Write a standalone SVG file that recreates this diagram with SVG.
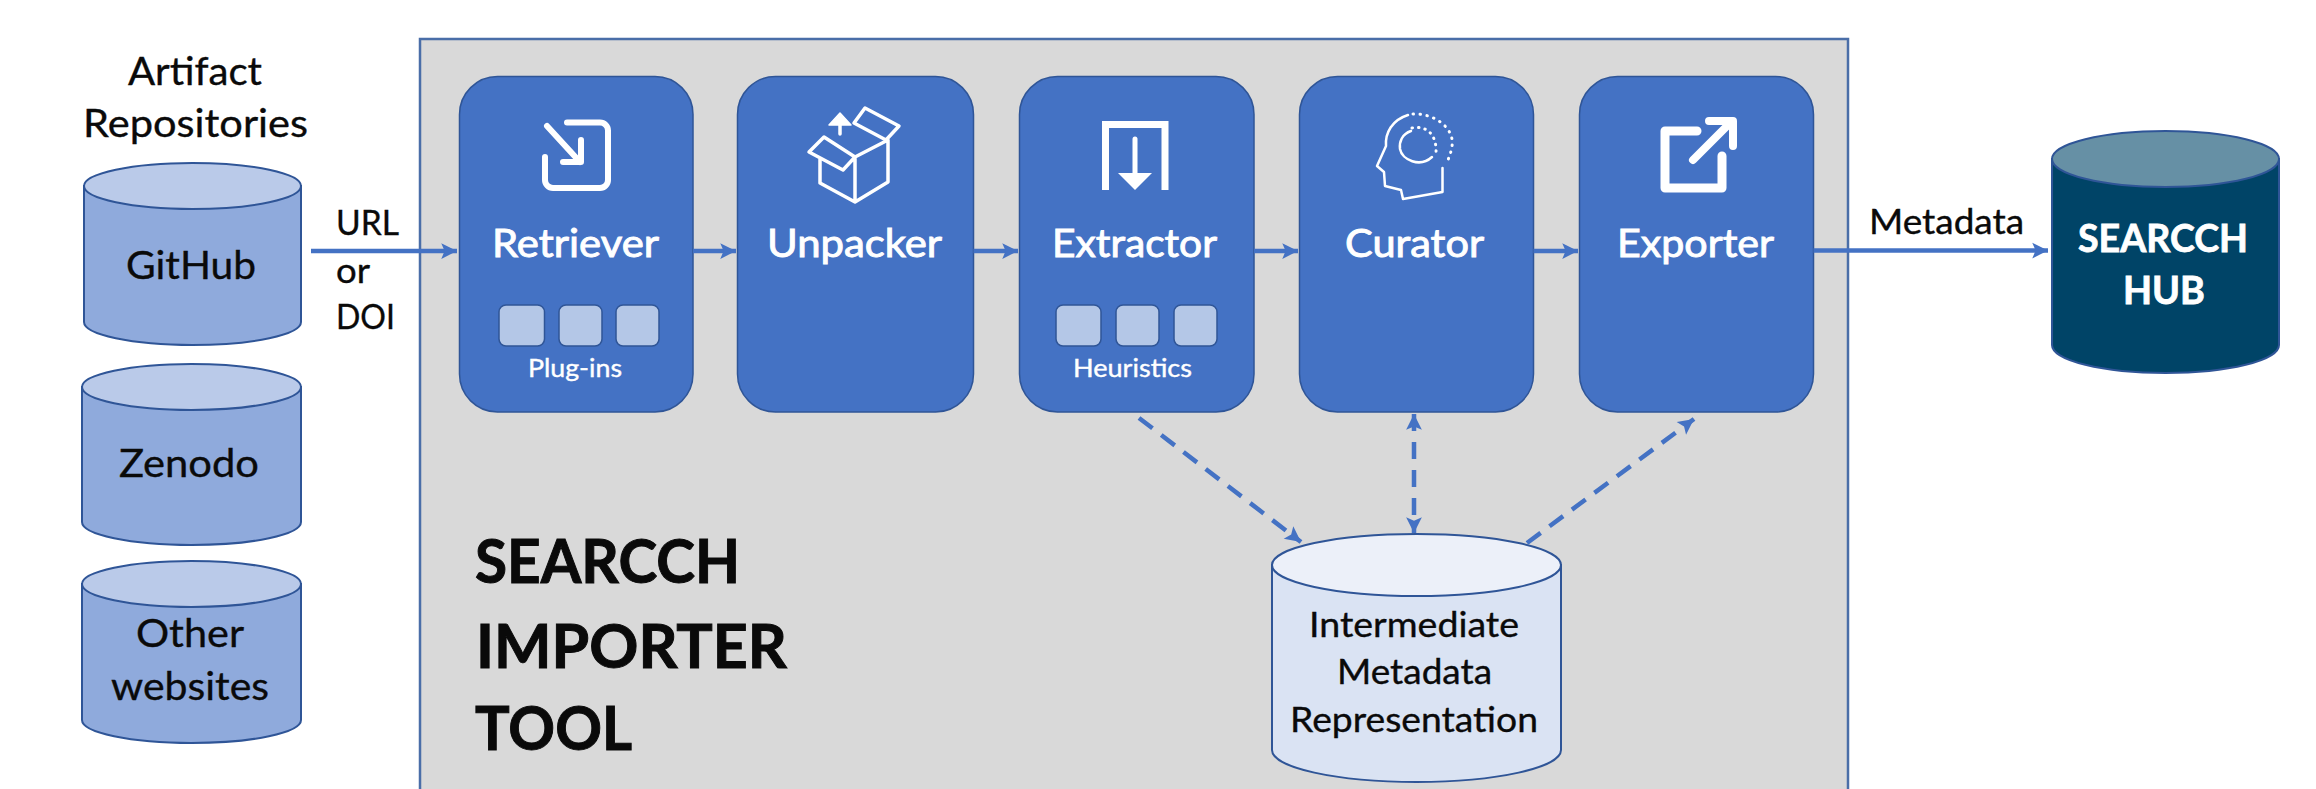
<svg xmlns="http://www.w3.org/2000/svg" width="2316" height="789" viewBox="0 0 2316 789">
<style>
text{font-family:Lato,"Liberation Sans",sans-serif;fill:#0a0a0a;stroke:#0a0a0a;stroke-width:.35}
.b{font-size:39px}.m{font-size:34px}
.w{fill:#fff;stroke:#fff;stroke-width:.9;font-size:38px}
.s{fill:#fff;stroke:#fff;stroke-width:.4;font-size:25px}
.h{font-size:62px;font-weight:700;stroke-width:1}
.hub{fill:#fff;stroke:#fff;stroke-width:.8;font-size:39px;font-weight:700}
.step{fill:#4472c4;stroke:#2f5597;stroke-width:1.5}
.chip{fill:#b4c7e7;stroke:#2f5597;stroke-width:1.5}
.cyl{stroke:#2f5597;stroke-width:2}
.blue{fill:#8faadc}.bluetop{fill:#bacae9}
.pale{fill:#dae3f3}.paletop{fill:#ecf0f9}
.dark{fill:#004467}.darktop{fill:#6690a5}
.ic{fill:none;stroke:#fff;stroke-linecap:round;stroke-linejoin:round}
.flow{fill:none;stroke:#4472c4;stroke-width:4.5;marker-end:url(#a)}
.dash{fill:none;stroke:#4472c4;stroke-width:4.5;stroke-dasharray:17 11;marker-end:url(#a)}
</style>
<defs>
<marker id="a" markerUnits="userSpaceOnUse" markerWidth="18" markerHeight="18" refX="15" refY="8" orient="auto-start-reverse" viewBox="0 0 16 16"><path d="M1,1 L15,8 L1,15 L4,8 Z" fill="#4472c4"/></marker>
</defs>
<rect width="2316" height="789" fill="#fff"/>
<rect id="importer-tool" x="420" y="39" width="1428" height="770" fill="#d9d9d9" stroke="#4a6ea8" stroke-width="2.5"/>
<text class="h" x="475" y="583" textLength="265" lengthAdjust="spacingAndGlyphs">SEARCCH</text>
<text class="h" x="476" y="668" textLength="311" lengthAdjust="spacingAndGlyphs">IMPORTER</text>
<text class="h" x="475" y="750" textLength="157" lengthAdjust="spacingAndGlyphs">TOOL</text>

<g id="repositories-label">
<text class="b" x="128" y="85" textLength="134" lengthAdjust="spacingAndGlyphs">Artifact</text>
<text class="b" x="83" y="137" textLength="225" lengthAdjust="spacingAndGlyphs">Repositories</text>
</g>

<g id="github">
<path class="cyl blue" d="M84,186V322A108.500,23 0 0 0 301,322V186Z"/>
<ellipse class="cyl bluetop" cx="192.500" cy="186" rx="108.500" ry="23"/>
<text class="b" x="126" y="279" textLength="130" lengthAdjust="spacingAndGlyphs">GitHub</text>
</g>
<g id="zenodo">
<path class="cyl blue" d="M82,387V522A109.500,23 0 0 0 301,522V387Z"/>
<ellipse class="cyl bluetop" cx="191.500" cy="387" rx="109.500" ry="23"/>
<text class="b" x="119" y="477" textLength="140" lengthAdjust="spacingAndGlyphs">Zenodo</text>
</g>
<g id="other-websites">
<path class="cyl blue" d="M82,584V720A109.500,23 0 0 0 301,720V584Z"/>
<ellipse class="cyl bluetop" cx="191.500" cy="584" rx="109.500" ry="23"/>
<text class="b" x="136" y="647" textLength="108" lengthAdjust="spacingAndGlyphs">Other</text>
<text class="b" x="111" y="700" textLength="158" lengthAdjust="spacingAndGlyphs">websites</text>
</g>

<g id="connector-labels">
<text class="m" x="336" y="235" textLength="63" lengthAdjust="spacingAndGlyphs">URL</text>
<text class="m" x="336" y="283" textLength="34" lengthAdjust="spacingAndGlyphs">or</text>
<text class="m" x="336" y="329" textLength="59" lengthAdjust="spacingAndGlyphs">DOI</text>
<text class="m" x="1869" y="234" textLength="155" lengthAdjust="spacingAndGlyphs">Metadata</text>
</g>

<g id="retriever">
<rect class="step" x="459.500" y="76.500" width="233.500" height="335.500" rx="38"/>
<path class="ic" stroke-width="6" d="M567,122.500H600a8,8 0 0 1 8,8V180a8,8 0 0 1 -8,8H553a8,8 0 0 1 -8,-8V157"/>
<path class="ic" stroke-width="6" d="M547,126L580,162M581,140V162H563"/>
<text class="w" x="492" y="257" textLength="167" lengthAdjust="spacingAndGlyphs">Retriever</text>
<rect class="chip" x="499" y="305" width="45.500" height="41" rx="7"/>
<rect class="chip" x="559" y="305" width="43" height="41" rx="7"/>
<rect class="chip" x="616" y="305" width="43" height="41" rx="7"/>
<text class="s" x="528" y="377" textLength="94" lengthAdjust="spacingAndGlyphs">Plug-ins</text>
</g>

<g id="unpacker">
<rect class="step" x="737.500" y="76.500" width="236" height="335.500" rx="38"/>
<path class="ic" stroke-width="3.500" d="M820,158V183L855,202L888,182V140L855,157V202M809,152L824,137L855,157L843,170ZM854,123L865,108L899,126L886,140ZM840,134V122"/>
<path fill="#fff" stroke="#fff" stroke-width="1.500" stroke-linejoin="round" d="M829,125L840,113L851,125Z"/>
<text class="w" x="767" y="257" textLength="175" lengthAdjust="spacingAndGlyphs">Unpacker</text>
</g>

<g id="extractor">
<rect class="step" x="1019.500" y="76.500" width="234.500" height="335.500" rx="38"/>
<path fill="none" stroke="#fff" stroke-width="7" d="M1105.500,190V124.500H1165V190"/>
<path class="ic" stroke-width="5" d="M1135,139V174"/>
<path fill="#fff" d="M1118,173H1152L1135,190Z"/>
<text class="w" x="1052" y="257" textLength="165" lengthAdjust="spacingAndGlyphs">Extractor</text>
<rect class="chip" x="1056" y="305" width="45" height="41" rx="7"/>
<rect class="chip" x="1116" y="305" width="43" height="41" rx="7"/>
<rect class="chip" x="1174" y="305" width="43" height="41" rx="7"/>
<text class="s" x="1073" y="377" textLength="119" lengthAdjust="spacingAndGlyphs">Heuristics</text>
</g>

<g id="curator">
<rect class="step" x="1299.500" y="76.500" width="234" height="335.500" rx="38"/>
<path class="ic" stroke-width="2.500" d="M1408,115C1392,120 1385,133 1386,146L1377,166L1384,172L1385,186L1401,190L1403,199L1442.500,192V168"/>
<path class="ic" stroke-width="3" stroke-dasharray="0.500 6.500" d="M1413,114C1434,113 1455,128 1452,146C1451,153 1449,158 1446,164"/>
<path class="ic" stroke-width="2.500" d="M1411,131C1402,134 1399,142 1400,149C1402,160 1420,168 1432,157"/>
<path class="ic" stroke-width="3" stroke-dasharray="0.500 6" d="M1412,128C1427,125 1437,135 1436,153"/>
<text class="w" x="1345" y="257" textLength="139" lengthAdjust="spacingAndGlyphs">Curator</text>
</g>

<g id="exporter">
<rect class="step" x="1579.500" y="76.500" width="234" height="335.500" rx="38"/>
<path class="ic" stroke-width="9" d="M1697,131H1665V188H1722V156"/>
<path class="ic" stroke-width="8" d="M1693,160L1730,123M1709,121H1733V146"/>
<text class="w" x="1617" y="257" textLength="157" lengthAdjust="spacingAndGlyphs">Exporter</text>
</g>

<g id="intermediate-metadata">
<path class="cyl pale" d="M1272,565V750A144.500,32 0 0 0 1561,750V565Z"/>
<ellipse class="cyl paletop" cx="1416.500" cy="565" rx="144.500" ry="31"/>
<text class="m" x="1309" y="637" textLength="210" lengthAdjust="spacingAndGlyphs">Intermediate</text>
<text class="m" x="1337" y="684" textLength="155" lengthAdjust="spacingAndGlyphs">Metadata</text>
<text class="m" x="1290" y="732" textLength="248" lengthAdjust="spacingAndGlyphs">Representation</text>
</g>

<g id="searcch-hub">
<path class="cyl dark" d="M2052,159V345A113.500,28 0 0 0 2279,345V159Z"/>
<ellipse class="cyl darktop" cx="2165.500" cy="159" rx="113.500" ry="28"/>
<text class="hub" x="2078" y="252" textLength="170" lengthAdjust="spacingAndGlyphs">SEARCCH</text>
<text class="hub" x="2123" y="304" textLength="82" lengthAdjust="spacingAndGlyphs">HUB</text>
</g>

<g id="connectors">
<path class="flow" d="M311,251H457"/>
<path class="flow" d="M693,251H736"/>
<path class="flow" d="M973.500,251H1018"/>
<path class="flow" d="M1254,251H1298"/>
<path class="flow" d="M1533.500,251H1578"/>
<path class="flow" d="M1813.500,250.500H2048"/>
<path class="dash" d="M1139,418L1301,542"/>
<path class="dash" style="marker-start:url(#a)" d="M1414,414V533"/>
<path class="dash" d="M1527,543L1694,419"/>
</g>
</svg>
